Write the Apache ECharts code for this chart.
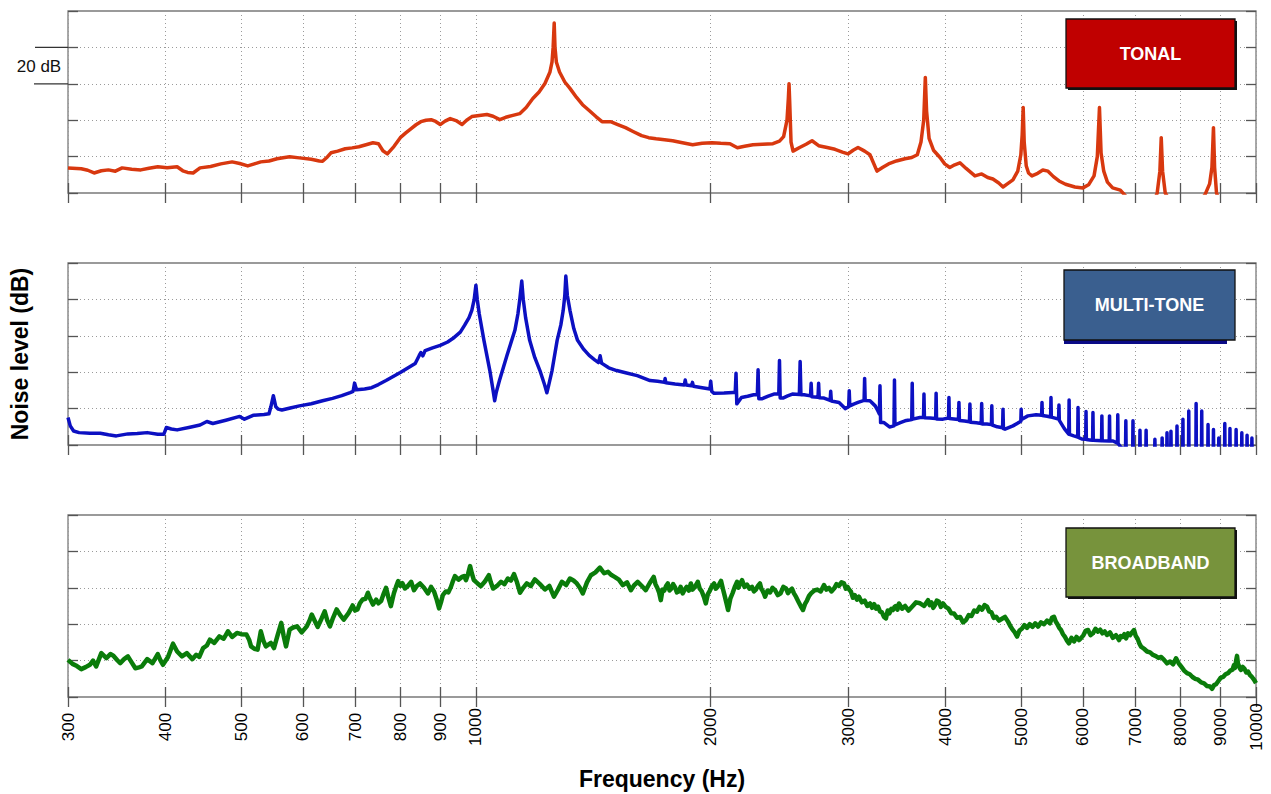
<!DOCTYPE html>
<html>
<head>
<meta charset="utf-8">
<script src="https://cdn.jsdelivr.net/npm/echarts@6/dist/echarts.min.js"></script>
<style>
  html, body { margin: 0; padding: 0; background: #fff; }
  #noise-chart { width: 1271px; height: 794px; }
</style>
</head>
<body>
<div id="noise-chart"></div>
<script>
// frequency ticks (Hz), log axis
const freqTicks = [300, 400, 500, 600, 700, 800, 900, 1000, 2000, 3000, 4000, 5000, 6000, 7000, 8000, 9000, 10000]
const panelNames = ['TONAL', 'MULTI-TONE', 'BROADBAND']

// [frequency Hz, level dB] (20 dB per grid step)
const tonal = [
  [300, 13.8], [312, 13.3], [318, 12.5], [324, 11.0], [331, 12.2], [338, 12.7], [345, 12.0], [352, 13.8], [362, 13.0], [372, 12.7],
  [381, 13.6], [391, 14.4], [402, 13.9], [414, 14.4], [421, 12.2], [427, 11.3], [434, 11.0], [443, 13.8], [457, 14.6], [471, 16.0],
  [487, 17.1], [498, 16.2], [510, 14.9], [520, 16.0], [530, 17.1], [543, 17.6], [556, 18.8], [566, 19.4], [577, 19.9], [594, 19.3],
  [615, 18.5], [630, 17.6], [636, 17.4], [645, 19.8], [652, 22.1], [665, 23.0], [680, 24.3], [694, 24.8], [708, 25.4], [723, 26.5],
  [738, 27.6], [750, 27.1], [760, 23.2], [770, 21.5], [785, 25.5], [800, 30.4], [813, 33.0], [826, 35.4], [838, 37.5], [850, 39.2],
  [863, 40.0], [876, 40.3], [888, 39.3], [900, 37.6], [913, 39.5], [927, 40.9], [943, 39.8], [960, 37.6], [973, 40.0], [988, 42.0],
  [1010, 42.6], [1033, 43.1], [1052, 42.2], [1073, 40.3], [1092, 41.6], [1112, 42.5], [1138, 43.6], [1160, 47.0], [1183, 51.9], [1205, 55.5],
  [1226, 60.2], [1244, 66.3], [1252, 72.0], [1256, 80.0], [1260, 93.4], [1263, 80.0], [1268, 72.0], [1280, 66.5], [1300, 61.0], [1320, 57.5],
  [1346, 52.5], [1370, 48.5], [1397, 45.3], [1425, 42.0], [1451, 39.2], [1488, 39.2], [1520, 37.6], [1555, 35.9], [1590, 33.8], [1631, 31.5],
  [1665, 30.4], [1702, 29.8], [1745, 29.3], [1787, 28.7], [1840, 27.6], [1896, 26.5], [1950, 27.3], [2007, 27.6], [2060, 27.3], [2117, 27.1],
  [2140, 26.0], [2164, 24.9], [2210, 25.7], [2265, 26.5], [2330, 26.8], [2403, 27.1], [2450, 28.5], [2480, 31.0], [2505, 40.0], [2515, 52.0],
  [2520, 60.0], [2525, 50.0], [2535, 28.0], [2550, 23.0], [2600, 25.0], [2650, 26.8], [2697, 28.7], [2750, 26.0], [2820, 25.0], [2886, 24.0],
  [2950, 22.5], [3000, 21.5], [3045, 23.5], [3089, 25.0], [3150, 23.0], [3200, 21.0], [3267, 12.0], [3320, 14.0], [3380, 16.0], [3460, 17.6],
  [3549, 18.8], [3620, 19.5], [3680, 21.0], [3720, 28.0], [3750, 40.0], [3768, 63.5], [3782, 45.0], [3810, 30.0], [3860, 23.5], [3935, 19.5],
  [3990, 16.0], [4050, 14.0], [4110, 15.5], [4173, 16.6], [4250, 13.5], [4362, 9.4], [4450, 10.5], [4530, 8.5], [4600, 7.7], [4680, 5.5],
  [4739, 3.3], [4800, 5.0], [4880, 7.2], [4950, 12.0], [4995, 21.0], [5015, 32.0], [5030, 47.0], [5045, 28.0], [5075, 15.0], [5110, 11.0],
  [5161, 9.4], [5250, 10.8], [5330, 12.6], [5412, 12.0], [5500, 9.0], [5591, 6.6], [5700, 4.8], [5860, 3.3], [6000, 2.8], [6100, 4.5],
  [6200, 9.4], [6260, 20.0], [6300, 47.0], [6330, 22.0], [6380, 12.0], [6450, 6.0], [6550, 2.8], [6700, 1.6], [6850, -3.0], [7100, -8.0],
  [7380, -6.0], [7470, 0], [7530, 12.0], [7560, 30.4], [7590, 12.0], [7650, 0], [7800, -6.0], [8400, -6.0], [8600, -1.0], [8720, 5.0],
  [8780, 14.0], [8820, 35.9], [8850, 14.0], [8900, 0], [9000, -6.0], [10000, -10.0]
]

const multiTone = [
  [300, 15.1], [302, 10.5], [305, 7.7], [310, 6.8], [320, 6.5], [330, 6.5], [338, 5.6], [346, 5.0], [358, 6.1], [368, 6.3],
  [379, 6.8], [391, 5.9], [398, 5.9], [401, 9.6], [407, 8.8], [414, 8.3], [430, 9.8], [443, 11.0], [452, 12.9], [460, 11.8],
  [478, 13.6], [498, 15.7], [505, 14.2], [519, 16.4], [535, 16.8], [543, 17.2], [546, 21.0], [550, 27.1], [554, 21.0], [558, 19.7],
  [564, 19.2], [580, 20.5], [594, 21.5], [615, 22.7], [636, 24.3], [655, 25.6], [673, 27.1], [690, 28.8], [696, 29.5], [699, 34.0],
  [703, 30.4], [720, 30.8], [735, 31.5], [750, 33.2], [767, 35.4], [800, 39.8], [836, 44.8], [846, 49.2], [850, 50.8], [855, 49.0],
  [861, 51.9], [880, 53.4], [900, 54.7], [920, 56.6], [938, 59.1], [955, 62.0], [967, 65.7], [980, 70.0], [988, 74.0], [995, 80.0],
  [1000, 87.8], [1004, 80.0], [1010, 72.0], [1024, 57.5], [1042, 40.9], [1052, 30.0], [1057, 24.3], [1062, 29.0], [1072, 35.4], [1096, 49.2],
  [1122, 63.0], [1132, 72.0], [1138, 79.6], [1145, 90.1], [1150, 80.0], [1158, 70.0], [1172, 57.5], [1190, 48.0], [1208, 40.9], [1225, 33.0],
  [1233, 28.7], [1240, 33.0], [1252, 40.9], [1271, 57.5], [1285, 66.0], [1294, 74.0], [1300, 82.0], [1304, 92.8], [1310, 82.0], [1320, 74.0],
  [1335, 64.0], [1350, 57.5], [1375, 52.5], [1397, 49.2], [1420, 46.8], [1436, 45.3], [1443, 49.0], [1449, 45.0], [1480, 42.4], [1515, 40.9],
  [1560, 39.6], [1610, 38.1], [1672, 35.4], [1710, 35.0], [1745, 34.4], [1748, 36.5], [1752, 34.2], [1800, 33.5], [1850, 33.0], [1855, 35.7],
  [1860, 33.0], [1890, 32.5], [1895, 34.4], [1900, 32.3], [1950, 31.5], [1995, 30.8], [2000, 35.0], [2006, 29.5], [2020, 28.4], [2080, 28.6],
  [2136, 28.9], [2150, 28.9], [2155, 39.4], [2160, 22.6], [2190, 26.1], [2230, 26.8], [2270, 27.6], [2295, 27.6], [2300, 41.3], [2305, 25.4],
  [2325, 25.4], [2370, 26.8], [2410, 28.0], [2445, 28.0], [2450, 46.4], [2455, 25.8], [2475, 25.8], [2510, 27.0], [2545, 28.0], [2598, 27.8],
  [2604, 45.9], [2610, 27.6], [2635, 27.6], [2685, 27.0], [2690, 33.9], [2695, 26.5], [2745, 26.2], [2750, 33.9], [2755, 26.0], [2794, 25.8],
  [2845, 24.5], [2850, 29.5], [2855, 24.2], [2921, 23.4], [2974, 20.0], [3005, 21.0], [3010, 29.8], [3015, 21.5], [3050, 22.5], [3089, 23.4],
  [3145, 24.5], [3150, 36.6], [3155, 24.5], [3200, 24.3], [3250, 21.5], [3275, 18.8], [3290, 17.0], [3296, 32.6], [3302, 12.3], [3335, 12.3],
  [3390, 9.9], [3435, 10.5], [3440, 35.7], [3445, 11.0], [3500, 12.3], [3549, 13.3], [3620, 14.0], [3625, 33.9], [3630, 14.2], [3708, 15.1],
  [3748, 15.2], [3753, 28.0], [3758, 15.0], [3820, 14.8], [3885, 14.5], [3890, 28.4], [3895, 14.3], [3970, 14.2], [4035, 14.8], [4040, 26.1],
  [4045, 14.6], [4100, 14.3], [4155, 14.0], [4161, 23.4], [4167, 13.5], [4230, 13.2], [4292, 12.8], [4298, 22.5], [4304, 12.5], [4380, 12.2],
  [4444, 11.8], [4450, 22.8], [4456, 11.6], [4520, 11.5], [4580, 11.2], [4585, 21.5], [4590, 11.0], [4660, 10.0], [4733, 9.5], [4739, 19.7],
  [4745, 9.0], [4767, 8.7], [4880, 10.5], [4995, 13.0], [5000, 19.7], [5005, 14.0], [5100, 16.0], [5225, 16.6], [5311, 16.3], [5317, 23.4],
  [5323, 16.2], [5400, 15.8], [5454, 15.4], [5460, 26.1], [5466, 15.3], [5584, 14.2], [5590, 22.0], [5596, 13.5], [5680, 9.0], [5754, 5.9],
  [5760, 24.7], [5766, 5.8], [5840, 5.0], [5908, 4.4], [5914, 20.6], [5920, 4.2], [5980, 3.3], [6049, 3.1], [6055, 18.4], [6061, 3.0],
  [6120, 2.8], [6174, 2.6], [6180, 17.9], [6186, 2.6], [6339, 2.4], [6345, 16.0], [6351, 2.3], [6484, 2.2], [6490, 16.0], [6496, 2.2],
  [6557, 2.2], [6644, 1.0], [6650, 16.6], [6656, 0.8], [6720, -1.5], [6804, -2.0], [6810, 13.3], [6816, -2.0], [6949, -3.0], [6955, 13.3],
  [6961, -3.0], [7094, -4.0], [7100, 8.1], [7106, -4.0], [7224, -4.0], [7230, 8.1], [7236, -4.0], [7414, -4.0], [7420, 3.1], [7426, -4.0],
  [7574, -4.0], [7580, 3.9], [7586, -4.0], [7684, -4.0], [7690, 6.7], [7696, -4.0], [7774, -4.0], [7780, 7.6], [7786, -4.0], [7914, -4.0],
  [7920, 10.4], [7926, -4.0], [8054, -4.0], [8060, 14.1], [8066, -4.0], [8194, -4.0], [8200, 18.7], [8206, -4.0], [8374, -4.0], [8380, 22.8],
  [8386, -4.0], [8514, -4.0], [8520, 18.7], [8526, -4.0], [8674, -4.0], [8680, 11.3], [8686, -4.0], [8814, -4.0], [8820, 8.5], [8826, -4.0],
  [8954, -4.0], [8960, 3.9], [8966, -4.0], [9114, -4.0], [9120, 11.8], [9126, -4.0], [9254, -4.0], [9260, 9.1], [9266, -4.0], [9424, -4.0],
  [9430, 8.5], [9436, -4.0], [9584, -4.0], [9590, 6.7], [9596, -4.0], [9734, -4.0], [9740, 5.4], [9746, -4.0], [9874, -4.0], [9880, 3.9],
  [9886, -4.0], [10000, -4.0]
]

const broadband = [
  [300, 20.4], [304, 18.2], [308, 17.0], [312, 15.3], [316, 16.4], [320, 17.7], [323, 20.0], [326, 16.8], [331, 24.1], [336, 21.4],
  [340, 23.6], [343, 22.7], [347, 20.2], [350, 18.6], [354, 20.8], [358, 22.3], [362, 19.0], [366, 15.8], [370, 16.3], [373, 16.8],
  [379, 20.8], [385, 18.6], [391, 23.6], [394, 20.3], [397, 17.7], [403, 22.0], [409, 29.3], [414, 25.0], [420, 22.3], [426, 24.1],
  [433, 20.8], [438, 23.2], [442, 22.0], [447, 26.9], [452, 28.3], [456, 31.5], [462, 29.7], [469, 33.3], [475, 32.0], [481, 36.1],
  [487, 33.0], [494, 35.2], [500, 34.5], [508, 34.3], [512, 31.5], [515, 27.8], [520, 26.5], [525, 26.0], [530, 36.1], [534, 31.0],
  [538, 27.8], [546, 29.7], [551, 26.9], [557, 34.0], [563, 40.7], [567, 33.5], [571, 27.8], [577, 37.0], [583, 38.2], [590, 38.8],
  [598, 35.5], [607, 38.8], [612, 42.0], [616, 45.3], [622, 41.5], [627, 38.5], [634, 43.0], [640, 47.1], [645, 42.0], [650, 38.8],
  [656, 43.5], [663, 48.1], [670, 45.0], [677, 42.5], [687, 46.2], [695, 50.3], [700, 47.5], [705, 48.1], [710, 51.5], [716, 53.6],
  [722, 54.0], [727, 57.3], [732, 54.0], [738, 50.8], [745, 53.5], [750, 51.5], [756, 52.7], [762, 57.0], [767, 60.0], [772, 55.0],
  [778, 49.9], [785, 57.0], [790, 60.5], [795, 63.7], [800, 61.0], [805, 62.5], [811, 59.6], [818, 61.0], [826, 63.3], [833, 58.7],
  [840, 61.0], [848, 62.4], [858, 60.0], [868, 56.9], [876, 60.5], [884, 57.8], [890, 54.0], [897, 48.7], [902, 52.0], [907, 56.0],
  [915, 58.0], [922, 57.5], [929, 60.5], [935, 64.0], [940, 66.4], [950, 64.5], [960, 66.0], [966, 66.5], [971, 64.2], [977, 67.5],
  [983, 71.9], [988, 68.0], [994, 64.2], [1005, 62.4], [1015, 60.9], [1027, 63.5], [1039, 66.9], [1045, 63.0], [1052, 59.6], [1064, 61.0],
  [1077, 63.3], [1088, 62.0], [1099, 65.1], [1109, 64.0], [1119, 67.5], [1129, 63.0], [1139, 57.3], [1150, 60.0], [1162, 62.4], [1176, 61.0],
  [1190, 64.6], [1208, 62.0], [1226, 59.1], [1242, 61.0], [1259, 55.1], [1274, 59.0], [1289, 63.3], [1305, 61.5], [1320, 65.1], [1334, 64.0],
  [1347, 62.4], [1359, 60.0], [1371, 56.9], [1388, 63.0], [1404, 66.9], [1423, 68.5], [1442, 71.1], [1460, 68.0], [1477, 68.8], [1492, 67.0],
  [1506, 66.0], [1525, 64.5], [1543, 61.5], [1562, 63.0], [1580, 58.7], [1596, 61.5], [1612, 63.3], [1632, 61.0], [1651, 58.7], [1670, 62.5],
  [1690, 66.0], [1699, 62.0], [1708, 60.0], [1717, 57.5], [1726, 53.2], [1735, 59.0], [1744, 58.5], [1753, 61.0], [1762, 62.4], [1771, 58.5],
  [1780, 59.5], [1790, 62.0], [1799, 60.5], [1810, 57.5], [1820, 58.0], [1830, 60.5], [1841, 56.9], [1852, 59.0], [1863, 60.5], [1875, 58.5],
  [1886, 62.4], [1895, 59.0], [1905, 60.0], [1915, 61.5], [1925, 63.3], [1936, 59.5], [1948, 58.0], [1960, 55.0], [1971, 51.4], [1983, 56.5],
  [1995, 58.5], [2007, 61.0], [2020, 62.4], [2030, 59.5], [2040, 60.5], [2051, 62.0], [2062, 63.8], [2073, 59.5], [2083, 56.0], [2094, 52.0],
  [2105, 47.8], [2119, 54.0], [2133, 57.0], [2147, 60.5], [2162, 63.3], [2170, 60.0], [2178, 61.5], [2186, 63.0], [2194, 64.2], [2210, 60.5],
  [2226, 61.8], [2242, 59.5], [2259, 60.5], [2272, 58.0], [2285, 59.0], [2299, 61.0], [2313, 62.4], [2322, 59.5], [2330, 58.5], [2339, 57.0],
  [2348, 55.1], [2365, 58.5], [2383, 57.5], [2400, 60.0], [2418, 58.7], [2438, 56.0], [2458, 57.0], [2478, 60.5], [2498, 59.6], [2512, 57.0],
  [2527, 58.5], [2542, 59.5], [2557, 56.9], [2573, 55.0], [2590, 52.5], [2608, 50.0], [2626, 47.8], [2641, 51.0], [2657, 53.0], [2673, 55.5],
  [2689, 56.9], [2714, 58.5], [2740, 59.0], [2767, 58.0], [2794, 61.5], [2814, 59.0], [2835, 60.0], [2856, 58.0], [2878, 59.6], [2899, 62.0],
  [2920, 61.0], [2942, 63.0], [2964, 62.4], [2980, 59.5], [2995, 60.5], [3010, 59.0], [3026, 57.8], [3043, 54.5], [3060, 56.0], [3079, 53.5],
  [3098, 55.1], [3124, 52.0], [3150, 53.0], [3175, 50.0], [3201, 51.4], [3220, 49.0], [3240, 51.0], [3258, 48.5], [3277, 49.6], [3296, 47.0],
  [3315, 46.5], [3335, 44.0], [3355, 43.2], [3372, 47.5], [3390, 46.0], [3408, 48.5], [3425, 47.8], [3440, 49.5], [3455, 50.0], [3470, 48.0],
  [3486, 51.4], [3518, 48.5], [3550, 50.0], [3586, 47.5], [3623, 49.6], [3666, 52.0], [3710, 51.5], [3754, 50.0], [3798, 53.2], [3817, 50.5],
  [3837, 52.0], [3857, 49.0], [3877, 50.5], [3898, 53.0], [3920, 52.5], [3945, 49.5], [3970, 51.4], [4002, 49.5], [4035, 48.5], [4068, 46.0],
  [4101, 45.9], [4138, 43.5], [4175, 44.0], [4212, 41.0], [4249, 42.3], [4283, 45.0], [4318, 44.5], [4353, 47.5], [4389, 46.9], [4422, 49.5],
  [4455, 48.0], [4488, 50.5], [4521, 49.6], [4550, 47.0], [4580, 46.5], [4611, 43.5], [4643, 44.1], [4684, 42.0], [4725, 43.0], [4767, 44.0],
  [4810, 41.4], [4842, 39.0], [4875, 37.0], [4907, 35.5], [4939, 33.2], [4975, 36.5], [5010, 37.5], [5048, 39.5], [5087, 38.0], [5128, 40.0],
  [5170, 38.5], [5212, 40.5], [5255, 38.7], [5302, 41.0], [5350, 40.0], [5397, 42.0], [5444, 40.5], [5476, 43.5], [5509, 44.1], [5537, 41.5],
  [5565, 40.0], [5594, 38.0], [5624, 36.8], [5657, 34.5], [5690, 33.0], [5724, 31.0], [5758, 29.5], [5800, 32.5], [5845, 30.5], [5888, 33.0],
  [5931, 31.3], [5970, 32.5], [6010, 34.0], [6050, 36.5], [6091, 36.8], [6135, 34.0], [6180, 35.0], [6226, 37.5], [6273, 35.9], [6314, 37.0],
  [6355, 35.0], [6398, 36.0], [6442, 34.1], [6498, 35.5], [6555, 32.5], [6615, 34.0], [6675, 31.3], [6710, 33.5], [6745, 33.0], [6780, 34.5],
  [6814, 32.2], [6855, 35.0], [6895, 34.0], [6936, 35.5], [6977, 36.8], [7013, 33.5], [7050, 32.0], [7086, 29.5], [7123, 27.7], [7186, 26.5],
  [7250, 25.0], [7315, 24.5], [7380, 23.1], [7440, 22.5], [7500, 21.5], [7560, 22.0], [7623, 20.4], [7690, 18.5], [7760, 19.5], [7830, 18.0],
  [7898, 21.3], [7960, 18.5], [8025, 16.5], [8090, 14.5], [8158, 13.1], [8224, 12.5], [8290, 11.0], [8360, 10.0], [8428, 9.5], [8505, 8.0],
  [8580, 7.5], [8655, 6.0], [8731, 5.8], [8783, 4.5], [8835, 6.5], [8888, 7.0], [8940, 8.5], [9008, 10.5], [9075, 11.0], [9140, 12.5],
  [9207, 13.1], [9270, 14.5], [9330, 15.0], [9370, 17.5], [9400, 16.0], [9430, 20.0], [9455, 22.6], [9480, 18.5], [9510, 17.0], [9540, 15.5],
  [9568, 14.9], [9617, 16.5], [9665, 15.5], [9717, 13.5], [9768, 14.0], [9825, 12.0], [9880, 11.0], [9940, 9.5], [10000, 7.6]
]

const seriesData = [tonal, multiTone, broadband]
const lineColors = ['#d8380f', '#0c10c2', '#0a7c0a']
const lineWidths = [3.5, 3.5, 4.5]
const boxColors = ['#c00000', '#3a5f8f', '#77933c']
const boxShadows = ['#111111', '#0a0a86', '#111111']

const gridTops = [11, 263, 515]
const gridHeight = 182
const fontFamily = '"Liberation Sans", Arial, Helvetica, sans-serif'
const gridLineStyle = { type: [1, 3], color: '#9a9a9a', width: 1 }
const tickStyle = { color: '#555', width: 1.3 }

function makeXAxis(i, pos) {
  const bottom = pos === 'bottom'
  const labelled = bottom && i === 2
  return {
    type: 'log',
    logBase: 10,
    min: 300,
    max: 10000,
    gridIndex: i,
    position: pos,
    axisLine: { show: false },
    axisTick: { show: true, inside: true, length: 10, customValues: freqTicks, lineStyle: tickStyle },
    minorTick: { show: false },
    axisLabel: {
      show: labelled,
      customValues: freqTicks,
      rotate: 90,
      align: 'center',
      margin: 30,
      color: '#000',
      fontSize: 17,
      fontFamily: fontFamily,
      formatter: (v) => String(Math.round(v)),
    },
    splitLine: { show: bottom, lineStyle: gridLineStyle },
    minorSplitLine: { show: false },
    name: labelled ? 'Frequency (Hz)' : '',
    nameLocation: 'middle',
    nameGap: 70,
    nameTextStyle: { fontSize: 23, fontWeight: 'bold', color: '#000', fontFamily: fontFamily },
  }
}

function makeYAxis(i, pos) {
  const left = pos === 'left'
  const named = left && i === 1
  return {
    type: 'value',
    min: 0,
    max: 100,
    interval: 20,
    gridIndex: i,
    position: pos,
    axisLine: { show: false },
    axisTick: { show: true, inside: true, length: 10, lineStyle: tickStyle },
    axisLabel: { show: false },
    splitLine: { show: left, lineStyle: gridLineStyle },
    name: named ? 'Noise level (dB)' : '',
    nameLocation: 'middle',
    nameGap: 37,
    nameTextStyle: { fontSize: 23, fontWeight: 'bold', color: '#000', fontFamily: fontFamily },
  }
}

// legend boxes drawn on top of each panel (MATLAB-style annotation boxes)
const boxRects = [
  { x: 1066, y: 19, w: 169, h: 69, dx: 2, dy: 2 },
  { x: 1064, y: 270, w: 171, h: 70, dx: 0, dy: 4 },
  { x: 1066, y: 528, w: 169, h: 69, dx: 2, dy: 2 },
]

function legendBox(i) {
  const b = boxRects[i]
  return {
    type: 'group',
    z: 100,
    children: [
      { type: 'rect', shape: { x: b.x + b.dx, y: b.y + b.dy, width: b.w - (i === 1 ? 8 : 0), height: b.h }, style: { fill: boxShadows[i] } },
      { type: 'rect', shape: { x: b.x, y: b.y, width: b.w, height: b.h }, style: { fill: boxColors[i], stroke: '#111', lineWidth: 1.3 } },
      {
        type: 'text',
        x: b.x + b.w / 2,
        y: b.y + b.h / 2,
        style: {
          text: panelNames[i],
          fill: '#fff',
          font: 'bold 18px ' + fontFamily,
          align: 'center',
          verticalAlign: 'middle',
        },
      },
    ],
  }
}

const chart = echarts.init(document.getElementById('noise-chart'), null, { renderer: 'svg' })

const option = {
  animation: false,
  backgroundColor: '#fff',
  grid: gridTops.map((t) => ({
    left: 68,
    right: 15,
    top: t,
    height: gridHeight,
    show: true,
    borderColor: '#7a7a7a',
    borderWidth: 1.3,
    backgroundColor: '#fff',
  })),
  xAxis: [0, 1, 2].flatMap((i) => [makeXAxis(i, 'bottom'), makeXAxis(i, 'top')]),
  yAxis: [0, 1, 2].flatMap((i) => [makeYAxis(i, 'left'), makeYAxis(i, 'right')]),
  series: seriesData.map((data, i) => ({
    name: panelNames[i],
    type: 'line',
    xAxisIndex: i * 2,
    yAxisIndex: i * 2,
    data: data,
    showSymbol: false,
    clip: true,
    lineStyle: { color: lineColors[i], width: lineWidths[i], join: 'round' },
    itemStyle: { color: lineColors[i] },
  })),
}
chart.setOption(option)

// "20 dB" scale marker on the TONAL panel, placed via the panel's own y scale
const y80 = chart.convertToPixel({ yAxisIndex: 0 }, 80)
const y60 = chart.convertToPixel({ yAxisIndex: 0 }, 60)
chart.setOption({
  graphic: [
    { type: 'line', shape: { x1: 35, y1: y80, x2: 68, y2: y80 }, style: { stroke: '#333', lineWidth: 1.3 } },
    { type: 'line', shape: { x1: 34, y1: y60, x2: 68, y2: y60 }, style: { stroke: '#333', lineWidth: 1.3 } },
    {
      type: 'text',
      x: 39,
      y: (y80 + y60) / 2 + 1,
      style: { text: '20 dB', fill: '#111', font: '17px ' + fontFamily, align: 'center', verticalAlign: 'middle' },
    },
    legendBox(0),
    legendBox(1),
    legendBox(2),
  ],
})

window.addEventListener('resize', () => {
  chart.resize()
})
</script>
</body>
</html>
